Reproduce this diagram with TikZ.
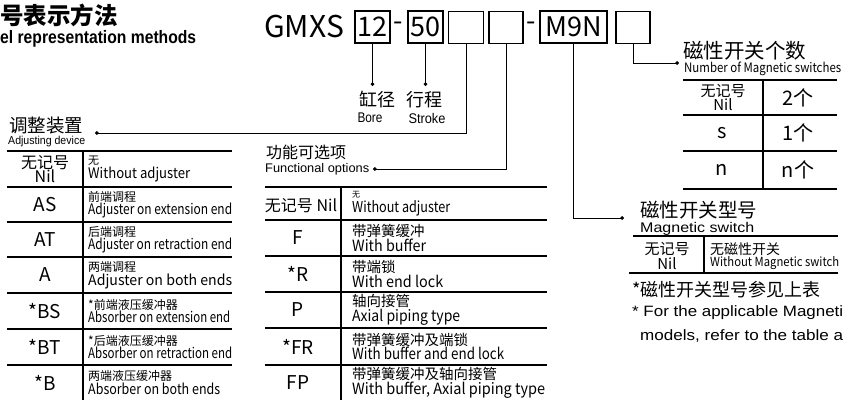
\documentclass[tikz,border=0pt]{standalone}
\usepackage{fontspec}
\usepackage{graphicx}
\setmainfont{Noto Sans CJK SC}
\newfontfamily\arialfont{Liberation Sans}
\usetikzlibrary{arrows.meta}

\newcommand\fsz[1]{\fontsize{#1}{14.5}\selectfont}
\newcommand\squeeze[2]{\resizebox{#1pt}{\height}{#2}}

\tikzset{
  codebox/.style={draw, line width=1.1pt, minimum height=32pt, inner sep=0pt, font=\fsz{27}},
  lead/.style={line width=0.9pt, -{Circle[length=3.6pt]}},
  rule/.style={line width=1.2pt},
  codecell/.style={inner sep=0pt, align=center, font=\fsz{19}},
  desccell/.style={anchor=west, inner sep=0pt, align=left},
  plain/.style={anchor=west, inner sep=0pt}
}

\begin{document}
\begin{tikzpicture}[x=1pt, y=-1pt]
  \useasboundingbox (0,0) rectangle (843,400);

  % title
  \node[plain, font=\bfseries\fsz{23.5}] (title) at (0,15) {号表示方法};
  \node[plain, font=\arialfont\bfseries\fsz{18}] (titleen) at (0,39) {\squeeze{196}{el representation methods}};

  % model code
  \node[anchor=base west, inner sep=0pt, font=\fsz{30}] (gmxs) at (264,37) {GMXS};
  \node[codebox, minimum width=35pt] (bore) at (372.5,27) {12};
  \node[inner sep=0pt, font=\fsz{27}] (dash1) at (398,26) {-};
  \node[codebox, minimum width=35pt] (stroke) at (425.5,27) {50};
  \node[codebox, minimum width=35pt] (adj) at (466,27.5) {};
  \node[codebox, minimum width=34pt] (func) at (506,27.5) {};
  \node[inner sep=0pt, font=\fsz{27}] (dash2) at (531,26) {-};
  \node[codebox, minimum width=67pt] (sw) at (573.5,27) {M9N};
  \node[codebox, minimum width=34pt] (num) at (633,27.5) {};

  % bore and stroke
  \coordinate (boredot) at (372.5,86);
  \coordinate (strokedot) at (425.5,86);
  \draw[lead] (bore.south) -- (boredot);
  \draw[lead] (stroke.south) -- (strokedot);
  \node[inner sep=0pt, font=\fsz{18}] (borezh) at (377,100) {缸径};
  \node[inner sep=0pt, font=\arialfont\fsz{14}] (boreen) at (370,118) {\squeeze{25}{Bore}};
  \node[inner sep=0pt, font=\fsz{18}] (strokezh) at (424,100) {行程};
  \node[inner sep=0pt, font=\arialfont\fsz{14}] (strokeen) at (427,118) {\squeeze{37}{Stroke}};

  % adjusting device
  \coordinate (adjdot) at (95,133);
  \draw[lead] (adj.south) |- (adjdot);
  \node[plain, font=\fsz{18.5}] (adjzh) at (9,126) {调整装置};
  \node[plain, font=\arialfont\fsz{11.5}] (adjen) at (8,142) {\squeeze{77}{Adjusting device}};
  \foreach \y in {151,187,222,257,293,329,365}
    \draw[rule] (7,\y) -- (232,\y);
  \draw[rule] (83,151) -- (83,400);
  \node[codecell, font=\fsz{16}] (adjnil) at (45,169) {无记号\\Nil};
  \node[desccell] (adjnilt) at (88,169) {{\fsz{11}无}\\{\fsz{14.5}\squeeze{102}{Without adjuster}}};
  \foreach \y/\code/\zh/\w/\en [count=\i] in {
      204.5/AS/前端调程/144/Adjuster on extension end,
      239.5/AT/后端调程/144/Adjuster on retraction end,
      275/A/两端调程/144/Adjuster on both ends,
      311/*BS/*前端液压缓冲器/142/Absorber on extension end,
      347/*BT/*后端液压缓冲器/144/Absorber on retraction end,
      382.5/*B/两端液压缓冲器/132/Absorber on both ends} {
    \node[codecell] (adjcode\i) at (45,\y) {\code};
    \node[desccell] (adjtext\i) at (88,\y) {{\fsz{12}\zh}\\{\fsz{14.5}\squeeze{\w}{\en}}};
  }

  % functional options
  \coordinate (funcdot) at (373,169);
  \draw[lead] (func.south) |- (funcdot);
  \node[plain, font=\fsz{16}] (funczh) at (266,152) {功能可选项};
  \node[plain, font=\arialfont\fsz{12.5}] (funcen) at (265,169) {\squeeze{104}{Functional options}};
  \foreach \y in {187,220,256,292,328,365}
    \draw[rule] (265,\y) -- (547,\y);
  \draw[rule] (341,187) -- (341,400);
  \node[codecell, font=\fsz{16}] (funcnil) at (301,206) {无记号 Nil};
  \node[desccell] (funcnilt) at (352,203.5) {{\fsz{8}无}\\[1pt]{\fsz{15}\squeeze{98}{Without adjuster}}};
  \foreach \y/\code/\zh/\w/\en [count=\i] in {
      238/F/带弹簧缓冲/74/With buffer,
      274/*R/带端锁/91/With end lock,
      310/P/轴向接管/108/Axial piping type,
      346.5/*FR/带弹簧缓冲及端锁/152/With buffer and end lock,
      382.5/FP/带弹簧缓冲及轴向接管/193/{With buffer, Axial piping type}} {
    \node[codecell] (funccode\i) at (298,\y) {\code};
    \node[desccell] (functext\i) at (352,\y) {{\fsz{14.5}\zh}\\{\fsz{15.5}\squeeze{\w}{\en}}};
  }

  % number of magnetic switches
  \coordinate (numdot) at (679,63);
  \draw[lead] (num.south) |- (numdot);
  \node[plain, font=\fsz{20.5}] (numzh) at (683,51) {磁性开关个数};
  \node[plain, font=\fsz{13}] (numen) at (684,69) {\squeeze{157}{Number of Magnetic switches}};
  \foreach \y in {80,115,151,189}
    \draw[rule] (683,\y) -- (837,\y);
  \draw[rule] (763,80) -- (763,189);
  \node[codecell, font=\fsz{15}] (numnil) at (723,97.5) {无记号\\Nil};
  \node[codecell, font=\fsz{20}] (nums) at (722,133) {s};
  \node[codecell, font=\fsz{20}] (numn) at (722,170) {n};
  \node[codecell, font=\fsz{20}] (numtwo) at (798,97.5) {2个};
  \node[codecell, font=\fsz{20}] (numone) at (798,133) {1个};
  \node[codecell, font=\fsz{20}] (numnn) at (798,170) {n个};

  % magnetic switch
  \coordinate (swdot) at (624,218);
  \draw[lead] (sw.south) |- (swdot);
  \node[plain, font=\fsz{19.5}] (swzh) at (640,210) {磁性开关型号};
  \node[plain, font=\arialfont\fsz{14}] (swen) at (640,229) {\squeeze{114}{Magnetic switch}};
  \draw[rule] (633,236) -- (838,236);
  \draw[rule] (629,273) -- (838,273);
  \draw[rule] (704,236) -- (704,273);
  \node[codecell, font=\fsz{15}] (swnil) at (667,256) {无记号\\Nil};
  \node[desccell] (swnilt) at (710,256) {{\fsz{14}无磁性开关}\\{\fsz{12.5}\squeeze{129}{Without Magnetic switch}}};
  \node[plain, font=\fsz{18}] (swnote) at (632,290) {*磁性开关型号参见上表};
  \node[plain, font=\arialfont\fsz{15}] (swnoteen) at (632,313) {\squeeze{211}{* For the applicable Magneti}};
  \node[plain, font=\arialfont\fsz{15}] (swnoteen2) at (640,336) {\squeeze{203}{models, refer to the table a}};
\end{tikzpicture}
\end{document}
